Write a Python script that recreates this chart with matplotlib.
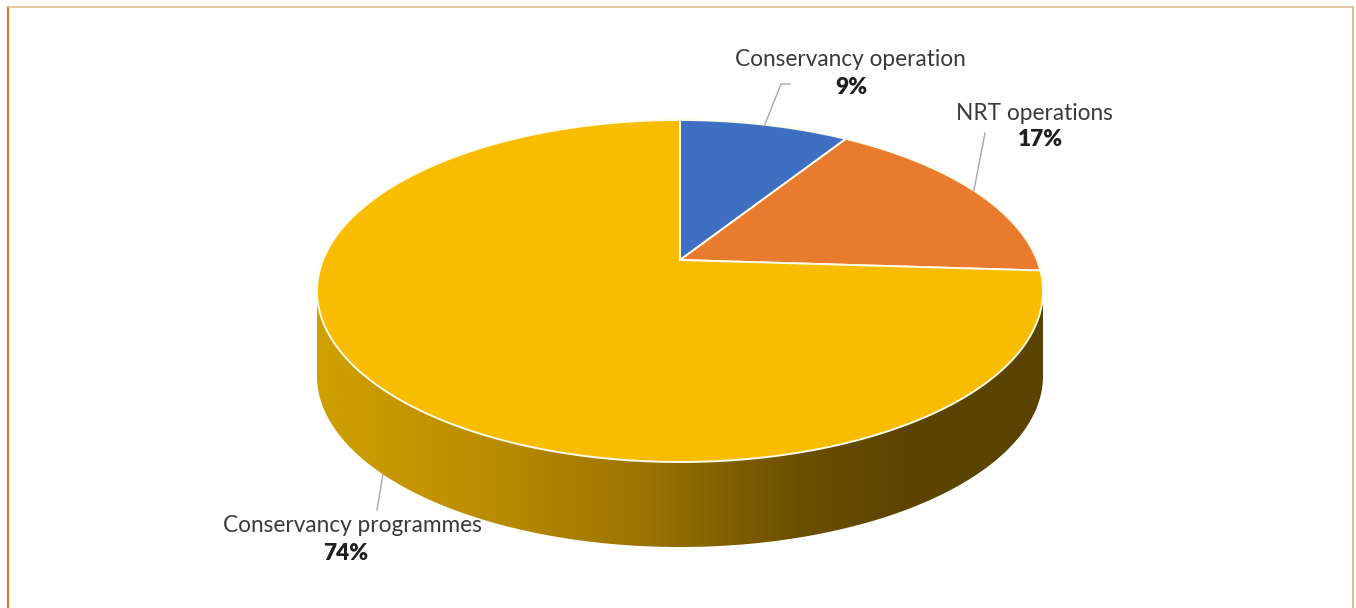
import numpy as np
import matplotlib
matplotlib.use("Agg")
from matplotlib import pyplot as plt
from matplotlib.patches import Polygon
from matplotlib.colors import LinearSegmentedColormap

# data
labels = ["Conservancy operation", "NRT operations", "Conservancy programmes"]
values = [9, 17, 74]
colors = ["#3f6fc2", "#e97b2f", "#f8bc00"]

# where the labels sit (pixels)
label_pos = [(850, 60), (1034, 113), (352, 525)]
pct_pos = [(851, 88), (1040, 139), (346, 553)]

plt.rcParams['font.family'] = ['Lato', 'DejaVu Sans']

# perspective disc: screen = projective map of the unit circle
CX, B = 680.0, 260.0
C = 0.1813
A = -118.25
K = 357.0
DEPTH = 85.0


def proj(theta, dz=0.0):
    u, v = np.cos(theta), np.sin(theta)
    d = 1 + C * v
    return CX + K * u / d, (A * v + B) / d + dz


fig = plt.figure(figsize=(13.56, 6.08), dpi=100)
ax = fig.add_axes([0, 0, 1, 1])

# side wall (front half only)
th_r = np.arcsin(-C)
th_l = -np.pi - th_r
t = np.linspace(th_r, th_l, 300)
xt, yt = proj(t)
xb, yb = proj(t[::-1], DEPTH)
side = Polygon(np.column_stack([np.r_[xt, xb], np.r_[yt, yb]]), closed=True,
               facecolor="none", edgecolor="none")
ax.add_patch(side)
grad = LinearSegmentedColormap.from_list("side", [
    (0.0, "#cfa000"), (0.25, "#b98b00"), (0.45, "#9b7300"),
    (0.66, "#6c5000"), (0.8, "#5d4500"), (1.0, "#5a4300")])
g = np.linspace(0, 1, 512).reshape(1, -1)
im = ax.imshow(g, cmap=grad, aspect="auto",
               extent=[xt.min(), xt.max(), yb.max(), yt.min()], zorder=2)
im.set_clip_path(side)
ax.set_xlim(0, 1356)
ax.set_ylim(608, 0)
ax.axis("off")

# top face wedges, clockwise from 12 o'clock
total = sum(values)
start = np.pi / 2
for i, (val, col) in enumerate(zip(values, colors)):
    span = 2 * np.pi * val / total
    tt = np.linspace(start, start - span, 200)
    x, y = proj(tt)
    ax.add_patch(Polygon(np.column_stack([np.r_[CX, x], np.r_[B, y]]),
                         closed=True, facecolor=col, edgecolor="#fffbe8",
                         linewidth=1.4, zorder=3))
    mid = start - span / 2
    # leader lines
    if i == 0:
        ex, ey = proj(mid)
        ax.plot([790, 781, ex], [84, 84, ey], color="#a6a6a6", lw=1, zorder=4)
    elif i == 1:
        ex, ey = proj(mid)
        ax.plot([985, ex], [133, ey], color="#a6a6a6", lw=1, zorder=4)
    else:
        ex, ey = proj(mid, DEPTH)
        ax.plot([377, ex], [510, ey], color="#a6a6a6", lw=1, zorder=4)
    start -= span

# labels
for lab, val, (lx, ly), (px, py) in zip(labels, values, label_pos, pct_pos):
    ax.text(lx, ly, lab, ha="center", va="center", fontsize=16.3,
            color="#3a3a3a", zorder=5)
    ax.text(px, py, f"{val}%", ha="center", va="center", fontsize=16.3,
            fontweight="heavy", color="#1f1f1f", zorder=5)

# frame
ax.plot([8, 8], [7, 608], color="#d0822a", lw=1.6)
ax.plot([8, 1353], [7, 7], color="#e2bb8c", lw=1.2)
ax.plot([1353, 1353], [7, 608], color="#e3c192", lw=1.5)

fig.savefig("out.png", dpi=100)
